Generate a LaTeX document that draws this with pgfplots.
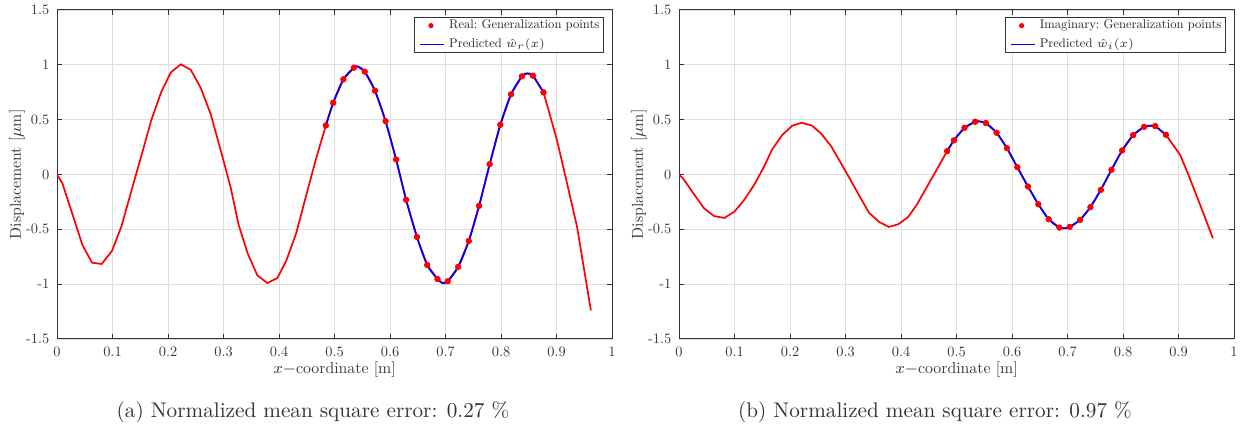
\documentclass[border=0pt]{standalone}
\usepackage{fontspec}
\setmainfont{lmroman10-regular.otf}
\usepackage{pgfplots}
\usepackage{pgfplotstable}
\pgfplotsset{compat=1.18}
\definecolor{gridc}{gray}{0.87}
\definecolor{axc}{gray}{0.2}
\pgfplotsset{
 myax/.style={
  scale only axis, width=277.5pt, height=164.5pt,
  xmin=0, xmax=1, ymin=-1.5, ymax=1.5,
  xtick={0,0.1,0.2,0.3,0.4,0.5,0.6,0.7,0.8,0.9,1},
  xticklabels={0,0.1,0.2,0.3,0.4,0.5,0.6,0.7,0.8,0.9,1},
  ytick={-1.5,-1,-0.5,0,0.5,1,1.5},
  yticklabels={-1.5,-1,-0.5,0,0.5,1,1.5},
  grid=major, major grid style={gridc, line width=0.4pt},
  tick align=inside, major tick length=2.5pt,
  axis line style={axc, line width=0.5pt},
  every tick/.style={axc, line width=0.5pt},
  tick label style={font=\fontsize{7.2}{8}\selectfont, text=black!78},
  label style={font=\fontsize{7.9}{9}\selectfont, text=black!78},
  xlabel={$x-$coordinate [m]},
  ylabel={Displacement [$\mu$m]},
  xticklabel style={yshift=-0.3pt},
  yticklabel style={xshift=-0.3pt},
  xlabel style={at={(rel axis cs:0.5,0)}, anchor=center, yshift=-15.5pt},
  ylabel style={at={(rel axis cs:-0.0721,0.5)}, anchor=center},
  legend style={at={(rel axis cs:0.986,0.978)}, anchor=north east,
    font=\fontsize{6.3}{7}\selectfont, draw=axc, line width=0.4pt, text=black!85,
    inner xsep=2.2pt, inner ysep=0.9pt, row sep=3.2pt, column sep=2pt,
    nodes={inner sep=0pt, text height=4.6pt, text depth=1.6pt},
    cells={anchor=west}},
  legend cell align=left,
 },
 redl/.style={red, line width=0.85pt, no marks},
 bluel/.style={blue, line width=0.85pt, no marks, smooth, tension=0.5,
   legend image code/.code={\draw[blue, line width=0.85pt] (0pt,0pt) -- (12.2pt,0pt);}},
 dots/.style={only marks, mark=*, mark size=1.3pt, red, mark options={draw=red, fill=red},
   legend image code/.code={\path[draw=none, fill=none] (0pt,0pt) -- (12.2pt,0pt); \fill[red, draw=none] (5.5pt,0pt) circle (1.3pt);}},
}
\begin{document}
\pgfplotstableread{
x y
0 0
0.0097 -0.08
0.0458 -0.643
0.063 -0.804
0.0806 -0.816
0.099 -0.697
0.116 -0.475
0.134 -0.15
0.152 0.17
0.170 0.497
0.188 0.755
0.205 0.93
0.223 1.005
0.241 0.955
0.259 0.79
0.277 0.55
0.295 0.22
0.313 -0.12
0.327 -0.454
0.3436 -0.72
0.361 -0.92
0.379 -0.99
0.397 -0.944
0.4128 -0.79
0.4308 -0.539
0.448 -0.21
0.466 0.13
0.4844 0.447
0.4976 0.654
0.516 0.868
0.535 0.974
0.542 0.985
0.5545 0.938
0.573 0.764
0.592 0.487
0.611 0.137
0.629 -0.231
0.6485 -0.569
0.667 -0.825
0.6856 -0.953
0.6946 -0.99
0.704 -0.974
0.7228 -0.843
0.742 -0.606
0.7605 -0.286
0.7796 0.094
0.7988 0.454
0.818 0.731
0.8377 0.895
0.847 0.922
0.8575 0.901
0.8766 0.749
0.9008 0.314
0.9176 -0.05
0.937 -0.476
0.962 -1.24
}\realline
\pgfplotstableread{
x y
0.4844 0.447
0.4976 0.654
0.516 0.868
0.535 0.974
0.5545 0.938
0.573 0.764
0.592 0.487
0.611 0.137
0.629 -0.231
0.6485 -0.569
0.667 -0.825
0.6856 -0.953
0.704 -0.974
0.7228 -0.843
0.742 -0.606
0.7605 -0.286
0.7796 0.094
0.7988 0.454
0.818 0.731
0.8377 0.895
0.8575 0.901
0.8766 0.749
}\realpts
\pgfplotstableread{
x y
0.4844 0.447
0.4976 0.654
0.516 0.868
0.535 0.974
0.542 0.985
0.5545 0.938
0.573 0.764
0.592 0.487
0.611 0.137
0.629 -0.231
0.6485 -0.569
0.667 -0.825
0.6856 -0.953
0.6946 -0.99
0.704 -0.974
0.7228 -0.843
0.742 -0.606
0.7605 -0.286
0.7796 0.094
0.7988 0.454
0.818 0.731
0.8377 0.895
0.847 0.922
0.8575 0.901
0.8766 0.749
}\realpred
\pgfplotstableread{
x y
0 0
0.0084 -0.043
0.027 -0.18
0.0455 -0.31
0.0635 -0.38
0.082 -0.396
0.1 -0.338
0.118 -0.228
0.136 -0.09
0.152 0.06
0.168 0.23
0.186 0.36
0.204 0.445
0.221 0.472
0.239 0.447
0.256 0.374
0.274 0.259
0.291 0.11
0.308 -0.04
0.325 -0.195
0.3425 -0.35
0.3605 -0.432
0.378 -0.478
0.395 -0.454
0.413 -0.387
0.429 -0.271
0.447 -0.11
0.465 0.05
0.4832 0.213
0.4952 0.311
0.5144 0.426
0.5337 0.481
0.54 0.485
0.553 0.469
0.5722 0.381
0.5909 0.24
0.6095 0.067
0.6288 -0.110
0.6474 -0.271
0.6661 -0.408
0.6853 -0.484
0.695 -0.49
0.704 -0.478
0.7226 -0.414
0.7413 -0.298
0.76 -0.140
0.7792 0.043
0.7984 0.219
0.8183 0.359
0.8381 0.435
0.848 0.444
0.858 0.441
0.8773 0.362
0.903 0.178
0.918 -0.005
0.94 -0.29
0.962 -0.582
}\imagline
\pgfplotstableread{
x y
0.4832 0.213
0.4952 0.311
0.5144 0.426
0.5337 0.481
0.553 0.469
0.5722 0.381
0.5909 0.24
0.6095 0.067
0.6288 -0.110
0.6474 -0.271
0.6661 -0.408
0.6853 -0.484
0.704 -0.478
0.7226 -0.414
0.7413 -0.298
0.76 -0.140
0.7792 0.043
0.7984 0.219
0.8183 0.359
0.8381 0.435
0.858 0.441
0.8773 0.362
}\imagpts
\pgfplotstableread{
x y
0.4832 0.213
0.4952 0.311
0.5144 0.426
0.5337 0.481
0.54 0.485
0.553 0.469
0.5722 0.381
0.5909 0.24
0.6095 0.067
0.6288 -0.110
0.6474 -0.271
0.6661 -0.408
0.6853 -0.484
0.695 -0.49
0.704 -0.478
0.7226 -0.414
0.7413 -0.298
0.76 -0.140
0.7792 0.043
0.7984 0.219
0.8183 0.359
0.8381 0.435
0.848 0.444
0.858 0.441
0.8773 0.362
}\imagpred
\begin{tikzpicture}
\path[use as bounding box] (-28.5pt,-46.5pt) rectangle (595.5pt,169.5pt);
\begin{axis}[myax, at={(0pt,0pt)}, anchor=south west]
\addplot[redl, forget plot] table {\realline};
\addplot[dots] table {\realpts};
\addlegendentry{Real:\ Generalization points}
\addplot[bluel] table {\realpred};
\addlegendentry{Predicted $\hat{w}_r(x)$}
\addplot[dots, forget plot] table {\realpts};
\end{axis}
\begin{axis}[myax, at={(311pt,0pt)}, anchor=south west]
\addplot[redl, forget plot] table {\imagline};
\addplot[dots] table {\imagpts};
\addlegendentry{Imaginary:\ Generalization points}
\addplot[bluel] table {\imagpred};
\addlegendentry{Predicted $\hat{w}_i(x)$}
\addplot[dots, forget plot] table {\imagpts};
\end{axis}
\node[font=\fontsize{10.6}{12}\selectfont, text=black!80] at (128pt,-36.5pt) {(a) Normalized mean square error: 0.27 \%};
\node[font=\fontsize{10.6}{12}\selectfont, text=black!80] at (439pt,-36.5pt) {(b) Normalized mean square error: 0.97 \%};
\end{tikzpicture}
\end{document}
